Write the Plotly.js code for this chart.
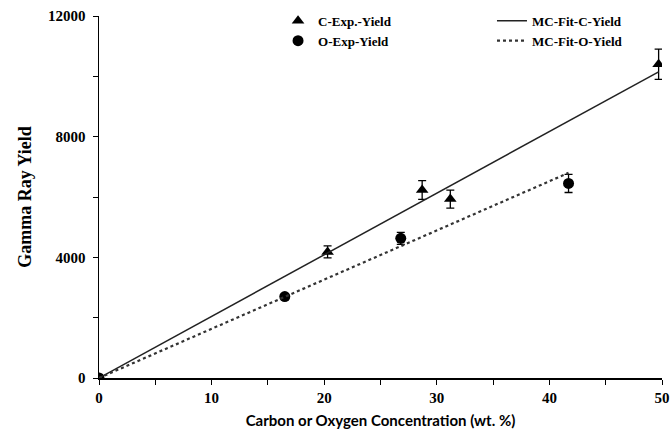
<!DOCTYPE html>
<html>
<head>
<meta charset="utf-8">
<script src="https://cdn.plot.ly/plotly-3.0.1.min.js"></script>
<style>html,body{margin:0;padding:0;background:#fff;}#chart{width:672px;height:435px;}</style>
</head>
<body>
<div id="chart"></div>
<script>
// Experimental carbon yield
const cExpX = [0, 20.3, 28.7, 31.2, 49.7];
const cExpY = [0, 4180, 6230, 5930, 10400];
const cExpErr = [0, 200, 310, 300, 500];
// Experimental oxygen yield
const oExpX = [0, 16.5, 26.8, 41.7];
const oExpY = [0, 2700, 4630, 6450];
const oExpErr = [0, 100, 200, 300];
// MC fit lines
const cFitX = [0, 49.7];
const cFitY = [0, 10150];
const oFitX = [0, 41.7];
const oFitY = [0, 6800];

const serif = '"Liberation Serif", "DejaVu Serif", serif';

const traces = [
  {x: cExpX, y: cExpY, type: 'scatter', mode: 'markers', name: '<b>C-Exp.-Yield</b>',
   marker: {symbol: 'triangle-up', size: 11, color: '#000'},
   error_y: {type: 'data', array: cExpErr, visible: true, color: '#000', thickness: 1.3, width: 4},
   legend: 'legend'},
  {x: oExpX, y: oExpY, type: 'scatter', mode: 'markers', name: '<b>O-Exp-Yield</b>',
   marker: {symbol: 'circle', size: 11, color: '#000'},
   error_y: {type: 'data', array: oExpErr, visible: true, color: '#000', thickness: 1.3, width: 4},
   legend: 'legend'},
  {x: cFitX, y: cFitY, type: 'scatter', mode: 'lines', name: '<b>MC-Fit-C-Yield</b>',
   line: {color: '#222', width: 1.5}, legend: 'legend2'},
  {x: oFitX, y: oFitY, type: 'scatter', mode: 'lines', name: '<b>MC-Fit-O-Yield</b>',
   line: {color: '#333', width: 2.2, dash: 'dot'}, legend: 'legend2'}
];

const legendCommon = {
  font: {family: serif, size: 13, color: '#000'},
  bgcolor: 'rgba(0,0,0,0)', borderwidth: 0,
  xanchor: 'left', yanchor: 'top', tracegroupgap: 0, itemwidth: 30
};

const layout = {
  width: 672, height: 435,
  margin: {l: 99, r: 10, t: 16, b: 57, autoexpand: false},
  paper_bgcolor: '#fff', plot_bgcolor: '#fff',
  font: {family: serif, color: '#000'},
  showlegend: true,
  xaxis: {
    range: [0, 50], dtick: 10, tick0: 0,
    showgrid: false, zeroline: false,
    showline: true, linecolor: '#000', linewidth: 1.5,
    ticks: 'outside', ticklen: 5, tickcolor: '#000', tickwidth: 1,
    minor: {dtick: 5, ticks: 'outside', ticklen: 5, tickcolor: '#000', showgrid: false},
    tickfont: {family: serif, size: 15, color: '#000', weight: 'bold'},
    title: {text: '<b>Carbon or Oxygen Concentration (wt. %)</b>', font: {family: 'Lato, sans-serif', size: 15, color: '#000'}, standoff: 11}
  },
  yaxis: {
    range: [0, 12000], dtick: 4000, tick0: 0, tickformat: 'd',
    showgrid: false, zeroline: false,
    showline: true, linecolor: '#000', linewidth: 1.5,
    ticks: 'outside', ticklen: 5, tickcolor: '#000', tickwidth: 1,
    minor: {dtick: 2000, ticks: 'outside', ticklen: 5, tickcolor: '#000', showgrid: false},
    tickfont: {family: serif, size: 15, color: '#000', weight: 'bold'},
    ticklabelstandoff: 4,
    title: {text: '<b>Gamma Ray Yield</b>', font: {family: serif, size: 18, color: '#000'}, standoff: 11}
  },
  legend: Object.assign({x: 0.318, y: 1.028}, legendCommon),
  legend2: Object.assign({x: 0.698, y: 1.028}, legendCommon)
};

Plotly.newPlot('chart', traces, layout, {displayModeBar: false, staticPlot: true});
</script>
</body>
</html>
